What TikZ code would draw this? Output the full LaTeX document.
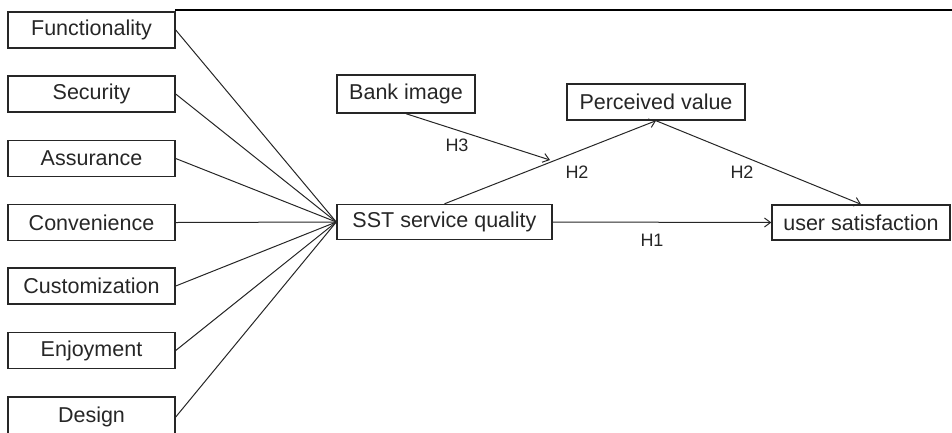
\documentclass[tikz,border=0pt]{standalone}
\usepackage{fontspec}
\setmainfont{Liberation Sans}
\usetikzlibrary{arrows.meta}
\definecolor{ink}{HTML}{262626}
\tikzset{
  box/.style={draw=ink, line width=1.4bp, rectangle, inner sep=0pt,
    text=ink, font=\fontsize{21.5bp}{25bp}\selectfont},
  leftbox/.style={box, minimum width=167bp, minimum height=36bp},
  link/.style={draw=ink, line width=1bp},
  arr/.style={link, -{Straight Barb[length=6bp,width=9bp,line width=1bp]}},
  hyp/.style={text=ink, font=\fontsize{18bp}{22bp}\selectfont, inner sep=0pt}
}
\begin{document}
\begin{tikzpicture}[x=1bp,y=-1bp]
\useasboundingbox (0,0) rectangle (952,432);
\clip (0,0) rectangle (952,432);
% rule along the top
\draw[black, line width=2bp] (175,10) -- (952,10);

% antecedent dimensions
\node[leftbox] (fun) at (91.5,30) {Functionality\hspace{16bp}};
\node[leftbox] (sec) at (91.5,94) {Security};
\node[leftbox] (ass) at (91.5,158.5) {Assurance};
\node[leftbox] (con) at (91.5,222.5) {Convenience};
\node[leftbox] (cus) at (91.5,286) {Customization};
\node[leftbox] (enj) at (91.5,350.5) {Enjoyment};
\node[leftbox, minimum height=40bp] (des) at (91.5,417) {Design};

% main constructs
\node[box, minimum width=215bp, minimum height=35bp] (sst) at (444.5,222) {SST service quality};
\node[box, minimum width=138bp, minimum height=38bp] (bank) at (406,94) {Bank image};
\node[box, minimum width=178bp, minimum height=36bp] (pv) at (656,102) {Perceived value};
\node[box, minimum width=178bp, minimum height=35bp] (us) at (861,222.5) {user satisfaction};

% dimensions feed service quality
\foreach \n in {fun,sec,ass,con,cus,enj,des}
  \draw[link] (\n.east) -- (sst.west);

% hypothesised paths
\coordinate (mod) at (550,160);
\draw[arr] (sst.north) -- (pv.south);
\draw[arr] (bank.south) -- (mod);
\draw[arr] (pv.south) -- (us.north);
\draw[arr] (sst.east) -- (us.west);

\node[hyp] (h3) at (457,145) {H3};
\node[hyp] (h2a) at (577,172) {H2};
\node[hyp] (h2b) at (742,172) {H2};
\node[hyp] (h1) at (652,240) {H1};
\end{tikzpicture}
\end{document}
